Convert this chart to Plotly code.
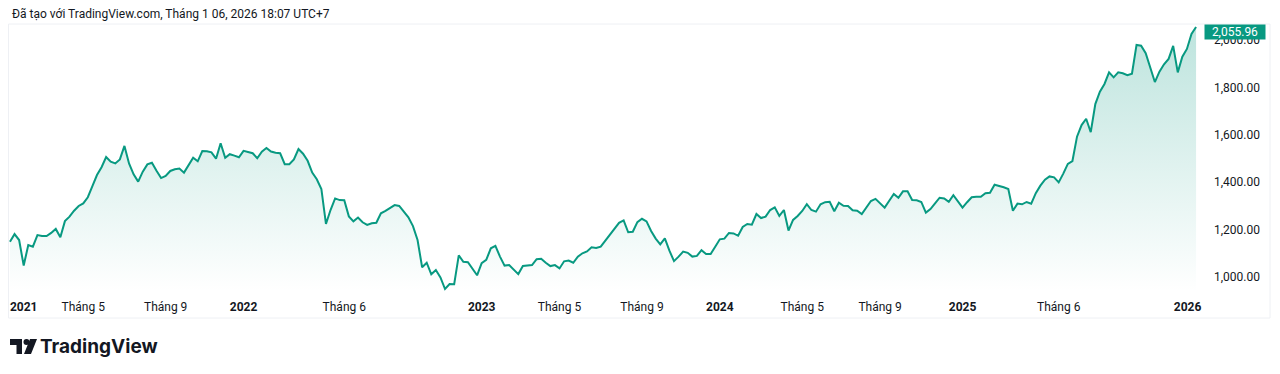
import pandas as pd
import plotly.graph_objects as go

# ---------------- data (weekly closes) ----------------
last_week = "2025-12-29"
values = [
    1148, 1180, 1155, 1047, 1134, 1127, 1176, 1172, 1172, 1185,
    1202, 1167, 1235, 1254, 1279, 1299, 1310, 1336, 1383, 1430,
    1463, 1506, 1486, 1479, 1496, 1553, 1479, 1433, 1402, 1444,
    1475, 1482, 1448, 1417, 1426, 1447, 1454, 1457, 1440, 1474,
    1503, 1488, 1531, 1530, 1526, 1499, 1564, 1503, 1518, 1512,
    1505, 1532, 1528,
    1522, 1501, 1529, 1544, 1529, 1524, 1522, 1476, 1476, 1496,
    1540, 1520, 1490, 1440, 1412, 1371, 1223, 1282, 1331, 1324,
    1323, 1255, 1234, 1250, 1230, 1219, 1226, 1228, 1268, 1278,
    1292, 1303, 1299, 1275, 1251, 1214, 1155, 1040, 1059, 1010,
    1028, 997, 948, 969, 968, 1090, 1063, 1061, 1031, 1006,
    1057, 1071, 1120, 1130, 1085,
    1047, 1049, 1031, 1011, 1045, 1047, 1049, 1074, 1076, 1059,
    1045, 1049, 1035, 1065, 1068, 1059, 1085, 1099, 1107, 1124,
    1121, 1127, 1152, 1179, 1205, 1228, 1238, 1188, 1190, 1231,
    1245, 1234, 1193, 1161, 1137, 1162, 1110, 1066, 1085, 1106,
    1101, 1085, 1088, 1112, 1096, 1096, 1127, 1158, 1161, 1185,
    1183, 1173, 1210, 1223,
    1220, 1265, 1248, 1254, 1282, 1293, 1257, 1282, 1195, 1240,
    1257, 1278, 1307, 1282, 1275, 1306, 1315, 1317, 1277, 1313,
    1300, 1299, 1281, 1279, 1265, 1293, 1320, 1329, 1310, 1292,
    1321, 1350, 1334, 1361, 1361, 1324, 1323, 1316, 1271, 1286,
    1310, 1334, 1331, 1317, 1345, 1317, 1292, 1315, 1336, 1338,
    1338, 1353, 1355, 1389, 1385,
    1378, 1371, 1279, 1309, 1306, 1316, 1309, 1353, 1385, 1410,
    1424, 1420, 1399, 1436, 1477, 1489, 1592, 1641, 1668, 1611,
    1730, 1782, 1815, 1864, 1843, 1864, 1860, 1852, 1858, 1980,
    1977, 1945, 1888, 1823, 1867, 1898, 1921, 1976, 1864, 1930,
    1963, 2026, 2055.96,
]
dates = pd.date_range(end=last_week, periods=len(values), freq="W-MON")

tick_dates = ["2021-02-01", "2021-05-03", "2021-09-06", "2022-01-03", "2022-06-06",
              "2023-01-02", "2023-05-01", "2023-09-04", "2024-01-01", "2024-05-06",
              "2024-09-02", "2025-01-06", "2025-06-02", "2025-12-16"]
tick_labels = ["<b>2021</b>", "Tháng 5", "Tháng 9", "<b>2022</b>", "Tháng 6",
               "<b>2023</b>", "Tháng 5", "Tháng 9", "<b>2024</b>", "Tháng 5",
               "Tháng 9", "<b>2025</b>", "Tháng 6", "<b>2026</b>"]
price_ticks = [1000, 1200, 1400, 1600, 1800, 2000]
last_price_text = "2,055.96"
header_text = "Đã tạo với TradingView.com, Tháng 1 06, 2026 18:07 UTC+7"

# ---------------- styling ----------------
PAGE_OFF = 8                      # browser body margin around the figure
W, H = 1280 - PAGE_OFF, 374 - PAGE_OFF
PLOT_L, PLOT_R, PLOT_T, PLOT_B = 8, 1200, 24, 292   # page pixels
ML, MR = PLOT_L - PAGE_OFF, W - (PLOT_R - PAGE_OFF)
MT, MB = PLOT_T - PAGE_OFF, H - (PLOT_B - PAGE_OFF)
PW, PH = PLOT_R - PLOT_L, PLOT_B - PLOT_T
TEAL = "#089981"
TXT = "#131722"
FONT = "Roboto, 'Noto Sans', sans-serif"
LOGO_FONT = "Inter, Roboto, sans-serif"
Y_RANGE = [935.3, 2068.5]


def px(x):
    return (x - PLOT_L) / PW


def py(y):
    return (PLOT_B - y) / PH


fig = go.Figure()
fig.add_trace(go.Scatter(
    x=dates, y=values, mode="lines",
    line=dict(color=TEAL, width=2),
    fill="tozeroy",
    fillgradient=dict(type="vertical", start=Y_RANGE[0], stop=Y_RANGE[1],
                      colorscale=[[0, "rgba(8,153,129,0.0)"], [1, "rgba(8,153,129,0.27)"]]),
    hoverinfo="skip", showlegend=False,
))

shapes = [
    # panel border
    dict(type="rect", xref="paper", yref="paper", x0=px(8.5), x1=px(1270), y0=py(24), y1=py(318),
         line=dict(color="#eef0f4", width=1), fillcolor="rgba(0,0,0,0)", layer="below"),
]
# TradingView logo mark
logo_fill = dict(fillcolor=TXT, line=dict(width=0))
shapes += [
    dict(type="rect", xref="paper", yref="paper", x0=px(10), x1=px(22), y0=py(345), y1=py(339), **logo_fill),
    dict(type="rect", xref="paper", yref="paper", x0=px(16.5), x1=px(22), y0=py(354), y1=py(339), **logo_fill),
    dict(type="circle", xref="paper", yref="paper", x0=px(23.5), x1=px(29.5), y0=py(345), y1=py(339), **logo_fill),
    dict(type="path", xref="paper", yref="paper",
         path=f"M {px(30)} {py(339)} L {px(37)} {py(339)} L {px(31)} {py(354)} L {px(24)} {py(354)} Z",
         **logo_fill),
]

annotations = [
    dict(text=header_text, xref="paper", yref="paper", x=px(10), y=py(14),
         xanchor="left", yanchor="middle", showarrow=False,
         font=dict(family=FONT, size=12, color=TXT)),
    dict(text="<b>TradingView</b>", xref="paper", yref="paper", x=px(38), y=py(346.5),
         xanchor="left", yanchor="middle", showarrow=False,
         font=dict(family=LOGO_FONT, size=19, color=TXT)),
    dict(text=last_price_text, xref="paper", yref="paper", x=px(1234.5), y=py(32),
         xanchor="center", yanchor="middle", showarrow=False,
         bgcolor=TEAL, width=58, height=12, borderpad=1,
         font=dict(family=FONT, size=12, color="white")),
]

fig.update_layout(
    width=W, height=H,
    margin=dict(l=ML, r=MR, t=MT, b=MB, pad=0),
    paper_bgcolor="white", plot_bgcolor="white",
    font=dict(family=FONT, size=12, color=TXT),
    shapes=shapes, annotations=annotations,
    xaxis=dict(type="date", range=["2021-01-08", "2026-01-04"],
               tickvals=tick_dates, ticktext=tick_labels,
               showgrid=False, zeroline=False, showline=False, ticks="",
               ticklabelstandoff=6, tickfont=dict(family=FONT, size=12, color=TXT)),
    yaxis=dict(side="right", range=Y_RANGE, tickvals=price_ticks, tickformat=",.2f",
               showgrid=False, zeroline=False, showline=False, ticks="",
               ticklabelstandoff=13, tickfont=dict(family=FONT, size=12, color=TXT)),
)

fig.write_html("out.html")
